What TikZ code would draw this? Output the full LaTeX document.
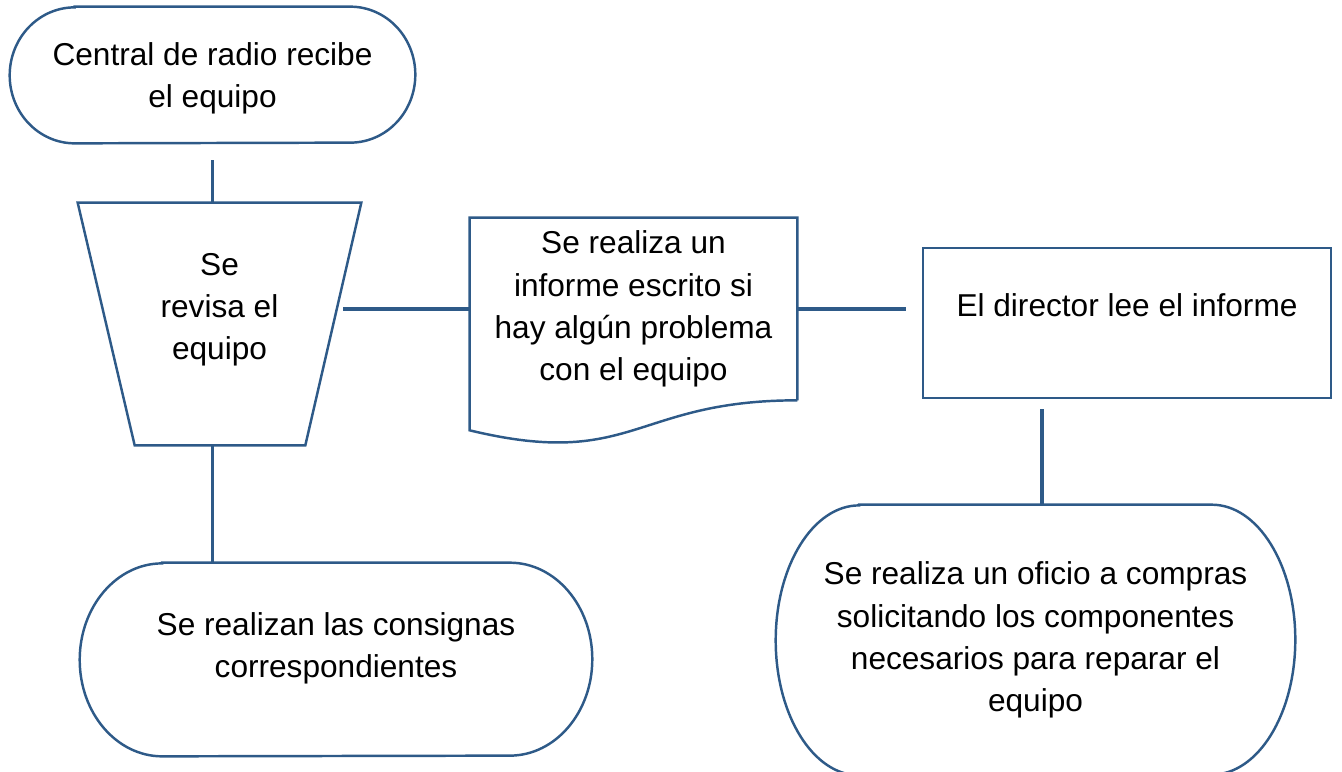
\documentclass[tikz,border=0pt]{standalone}
\usepackage{fontspec}
\setmainfont{Liberation Sans}
\definecolor{azulborde}{HTML}{2E5A88}
\tikzset{
  caja/.style={draw=none, align=center, inner sep=0pt,
    font=\fontsize{18}{24}\selectfont},
  borde/.style={draw=azulborde, line width=1.4pt},
  conector/.style={draw=azulborde, line width=1.8pt},
}
% contorno de terminal: #1 nodo, #2 radio x, #3 radio y
\newcommand{\contornoterminal}[3]{%
  \draw[borde] ([xshift=#2]#1.north west) -- ([xshift=-#2]#1.north east)
    arc[start angle=90, end angle=-90, x radius=#2, y radius=#3]
    -- ([xshift=#2]#1.south west)
    arc[start angle=270, end angle=90, x radius=#2, y radius=#3] -- cycle;}

\begin{document}
\begin{tikzpicture}[x=0.02cm, y=-0.02cm]
  \useasboundingbox (0,0) rectangle (1342,771);

  % --- inicio: central de radio ---
  \node[caja, minimum width=8.1cm, minimum height=2.72cm, text depth=0pt]
    (recibe) at (212.5,75) {Central de radio recibe\\el equipo};
  \contornoterminal{recibe}{1.3cm}{1.36cm}

  % --- operacion manual: revision ---
  \node[caja, minimum width=5.66cm, minimum height=4.84cm, text depth=20pt]
    (revisa) at (219.5,324) {Se\\revisa el\\equipo};
  \draw[borde] (revisa.north west) -- (revisa.north east)
    -- ([xshift=-1.12cm]revisa.south east) -- ([xshift=1.14cm]revisa.south west) -- cycle;

  % --- fin: consignas ---
  \node[caja, minimum width=10.24cm, minimum height=3.86cm, text depth=16pt]
    (consignas) at (336,659.5) {Se realizan las consignas\\correspondientes};
  \contornoterminal{consignas}{1.65cm}{1.93cm}

  % --- documento: informe ---
  \node[caja, minimum width=6.54cm, minimum height=3.64cm]
    (informe) at (633.5,309) {Se realiza un\\informe escrito si\\hay algún problema\\con el equipo};
  \draw[borde] (informe.south east) -- (informe.north east) -- (informe.north west)
    -- ([yshift=-0.6cm]informe.south west)
    .. controls ([yshift=-1.39cm]informe.south) and (informe.south) .. (informe.south east);

  % --- proceso: director ---
  \node[caja, borde, minimum width=8.16cm, minimum height=3cm, text depth=20pt]
    (director) at (1127,323) {El director lee el informe};

  % --- fin: oficio a compras ---
  \node[caja, minimum width=10.38cm, minimum height=5.4cm]
    (oficio) at (1035.5,640) {Se realiza un oficio a compras\\solicitando los componentes\\necesarios para reparar el\\equipo};
  \contornoterminal{oficio}{1.67cm}{2.7cm}

  % --- conectores ---
  \draw[conector] ([yshift=-0.34cm]recibe.south) -- (recibe.south |- revisa.north);
  \draw[conector] (recibe.south |- revisa.south) -- (recibe.south |- consignas.north);
  \draw[conector] ([xshift=-0.36cm]revisa.east |- informe.west) -- (informe.west);
  \draw[conector] (informe.east) -- ([xshift=-0.32cm]director.west |- informe.east);
  \coordinate (bajada) at ([xshift=0.13cm]oficio.north);
  \draw[conector] ([yshift=-0.2cm]bajada |- director.south) -- (bajada);

\end{tikzpicture}
\end{document}
